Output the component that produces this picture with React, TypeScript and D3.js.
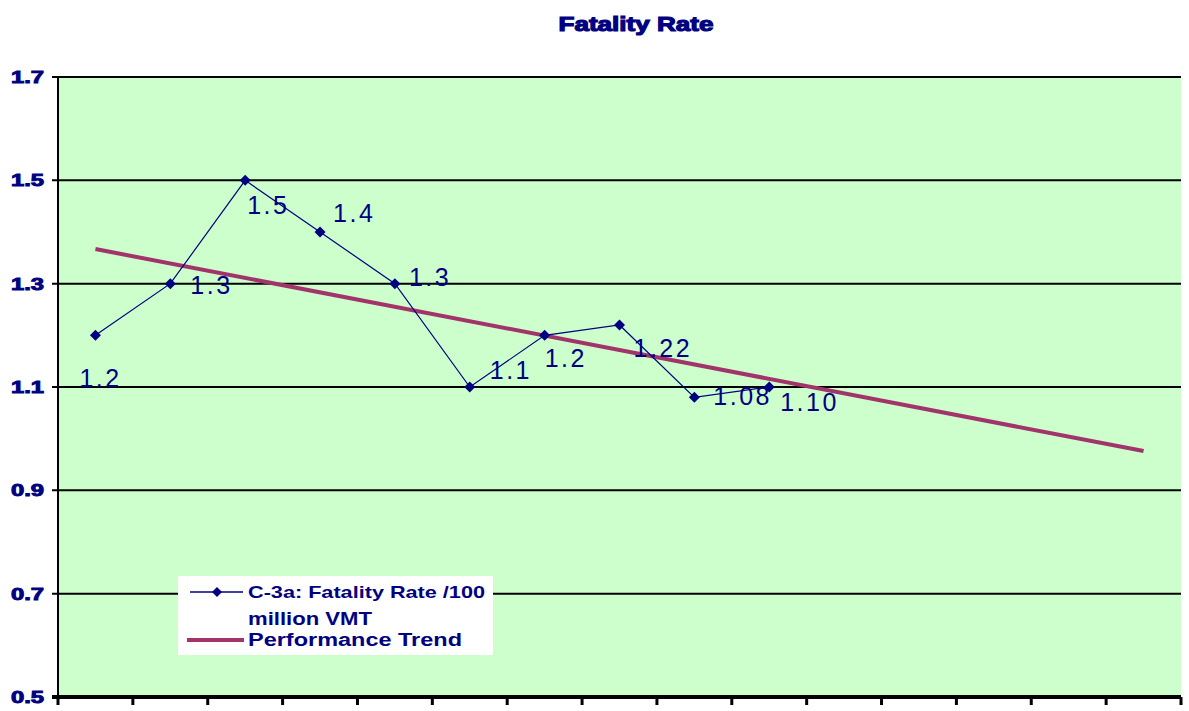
import React from "react";
import * as d3 from "d3";

const categories = ["1","2","3","4","5","6","7","8","9","10","11","12","13","14","15"];
const rateValues = [1.2, 1.3, 1.5, 1.4, 1.3, 1.1, 1.2, 1.22, 1.08, 1.10];
const rateLabels = ["1.2", "1.3", "1.5", "1.4", "1.3", "1.1", "1.2", "1.22", "1.08", "1.10"];
const trendCategories = ["1", "15"];
const trendValues = [1.367, 0.976];
const yTicks = [1.7, 1.5, 1.3, 1.1, 0.9, 0.7, 0.5];
const yTickLabels = ["1.7", "1.5", "1.3", "1.1", "0.9", "0.7", "0.5"];

// label offsets (dx of left edge, dy of baseline) relative to each point
const labelOffsets: [number, number][] = [
  [-16, 52], [20, 10], [2, 34], [13, -10], [14, 2], [20, -8], [0, 32], [14, 32], [19, 8], [11, 24],
];

const W = 1189, H = 711;
const L = 58, R = 1181, T = 77, B = 697;
const navy = "#000080";
const trendColor = "#A3336B";

export default function App() {
  const x = d3.scaleBand<string>().domain(categories).range([L, R]).padding(0);
  const cx = (c: string) => (x(c) as number) + x.bandwidth() / 2;
  const y = d3.scaleLinear().domain([0.5, 1.7]).range([B, T]);

  const line = d3.line<number>().x((_, i) => cx(categories[i])).y((d) => y(d));
  const trendLine = d3.line<number>().x((_, i) => cx(trendCategories[i])).y((d) => y(d));

  const diamond = (px: number, py: number, s = 5.5) =>
    `M${px},${py - s}L${px + s},${py}L${px},${py + s}L${px - s},${py}Z`;

  const boundaries = categories.map((c) => x(c) as number).concat([R]);

  return (
    <svg width={W} height={H} style={{ position: "absolute", left: 0, top: 0, background: "#fff" }}
      fontFamily="'Liberation Sans', Arial, sans-serif">
      <rect x={0} y={0} width={W} height={H} fill="#fff" />
      <text x={636} y={31} textAnchor="middle" fontSize={21} fontWeight={900} fill={navy}
        stroke={navy} strokeWidth={1.2}
        textLength={155} lengthAdjust="spacingAndGlyphs">Fatality Rate</text>

      <rect x={L} y={T} width={R - L} height={B - T} fill="#CCFFCC" />

      {yTicks.map((t, i) => (
        <g key={i}>
          <line x1={L - 6} x2={R} y1={y(t)} y2={y(t)} stroke="#000" strokeWidth={i === yTicks.length - 1 ? 4 : 2} />
          <text x={44} y={y(t) + 6} textAnchor="end" fontSize={16} fontWeight={900} fill={navy}
            stroke={navy} strokeWidth={0.9}
            textLength={33} lengthAdjust="spacingAndGlyphs">{yTickLabels[i]}</text>
        </g>
      ))}
      <line x1={L} x2={L} y1={T} y2={B} stroke="#000" strokeWidth={2} />
      {boundaries.map((bx, i) => (
        <line key={i} x1={bx} x2={bx} y1={B} y2={B + 8} stroke="#000" strokeWidth={3} />
      ))}

      <path d={trendLine(trendValues) || ""} fill="none" stroke={trendColor} strokeWidth={4} />
      <path d={line(rateValues) || ""} fill="none" stroke={navy} strokeWidth={1.2} />
      {rateValues.map((v, i) => (
        <path key={i} d={diamond(cx(categories[i]), y(v))} fill={navy} />
      ))}
      {rateValues.map((v, i) => (
        <text key={i} x={cx(categories[i]) + labelOffsets[i][0]} y={y(v) + labelOffsets[i][1]}
          fontSize={25} fill={navy} letterSpacing={2.5}>{rateLabels[i]}</text>
      ))}

      <g>
        <rect x={178} y={576} width={315} height={79} fill="#fff" />
        <line x1={190} x2={243} y1={592} y2={592} stroke={navy} strokeWidth={1.5} />
        <path d={diamond(217, 592, 5)} fill={navy} />
        <text x={248} y={598} fontSize={17} fontWeight={700} fill={navy}
          textLength={237} lengthAdjust="spacingAndGlyphs">C-3a: Fatality Rate /100</text>
        <text x={248} y={625} fontSize={18} fontWeight={700} fill={navy}
          textLength={124} lengthAdjust="spacingAndGlyphs">million VMT</text>
        <line x1={187} x2={244} y1={640} y2={640} stroke={trendColor} strokeWidth={4} />
        <text x={248} y={646} fontSize={18} fontWeight={700} fill={navy}
          textLength={214} lengthAdjust="spacingAndGlyphs">Performance Trend</text>
      </g>
    </svg>
  );
}
